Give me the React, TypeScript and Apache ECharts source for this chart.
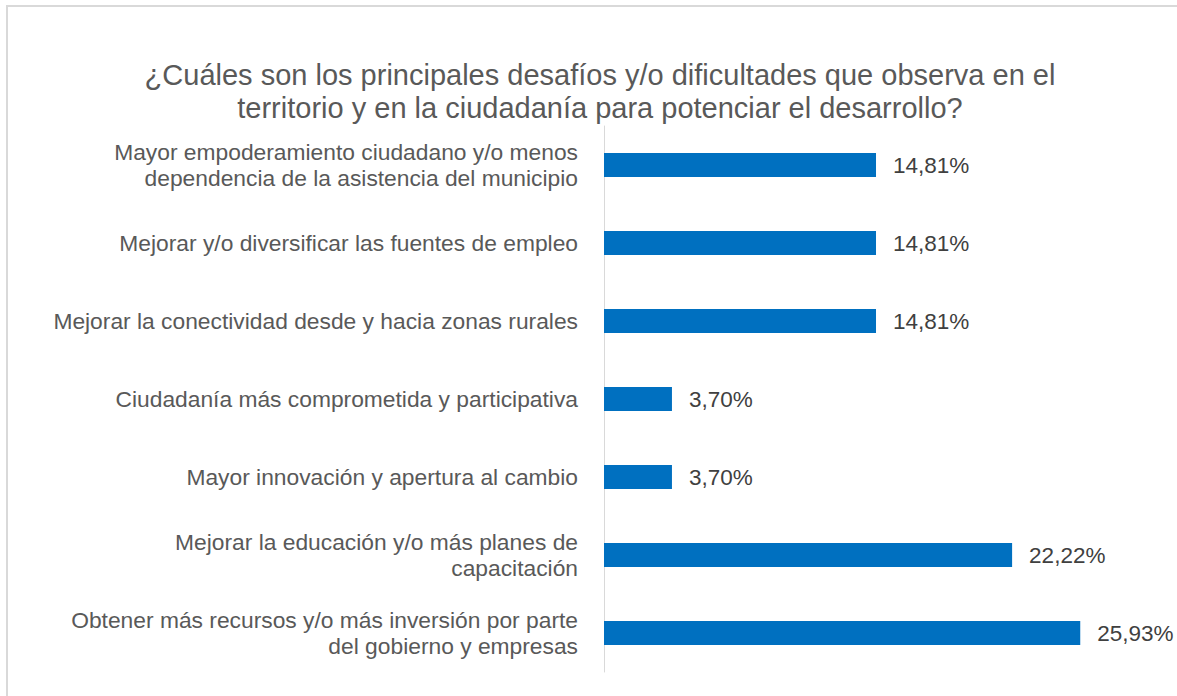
import React, { useEffect, useRef } from "react";
import * as echarts from "echarts";

const titleLines = [
  "¿Cuáles son los principales desafíos y/o dificultades que observa en el",
  "territorio y en la ciudadanía para potenciar el desarrollo?",
];

const categories = [
  "Mayor empoderamiento ciudadano y/o menos\ndependencia de la asistencia del municipio",
  "Mejorar y/o diversificar las fuentes de empleo",
  "Mejorar la conectividad desde y hacia zonas rurales",
  "Ciudadanía más comprometida y participativa",
  "Mayor innovación y apertura al cambio",
  "Mejorar la educación y/o más planes de\ncapacitación",
  "Obtener más recursos y/o más inversión por parte\ndel gobierno y empresas",
];

const values = [14.81, 14.81, 14.81, 3.7, 3.7, 22.22, 25.93];

const FONT = "'Liberation Sans', Arial, sans-serif";

export default function App() {
  const ref = useRef<HTMLDivElement>(null);
  useEffect(() => {
    if (!ref.current) return;
    const chart = echarts.init(ref.current, null, { renderer: "svg" });
    chart.setOption({
      animation: false,
      backgroundColor: "#ffffff",
      title: {
        text: titleLines.join("\n"),
        left: 595,
        textAlign: "center",
        top: 53,
        textStyle: {
          fontFamily: FONT,
          fontSize: 29,
          fontWeight: "normal",
          color: "#595959",
          lineHeight: 33,
        },
      },
      graphic: [
        {
          type: "rect",
          shape: { x: 7, y: 6, width: 1200, height: 720 },
          style: { fill: "none", stroke: "#d9d9d9", lineWidth: 2 },
          silent: true,
        },
      ],
      grid: { left: 604, top: 126, width: 551, height: 546, containLabel: false },
      xAxis: {
        type: "value",
        min: 0,
        max: 30,
        show: false,
      },
      yAxis: {
        type: "category",
        inverse: true,
        data: categories,
        axisLine: { show: true, lineStyle: { color: "#d9d9d9", width: 1 } },
        axisTick: { show: false },
        axisLabel: {
          margin: 26,
          fontFamily: FONT,
          fontSize: 22.8,
          color: "#595959",
          lineHeight: 26,
          align: "right",
        },
      },
      series: [
        {
          type: "bar",
          data: values,
          barWidth: 24,
          itemStyle: { color: "#0070C0" },
          label: {
            show: true,
            position: "right",
            distance: 17,
            fontFamily: FONT,
            fontSize: 22.5,
            color: "#404040",
            formatter: (p: any) => p.value.toFixed(2).replace(".", ",") + "%",
          },
        },
      ],
    });
    return () => chart.dispose();
  }, []);
  return (
    <div
      ref={ref}
      style={{ position: "fixed", left: 0, top: 0, width: 1177, height: 696 }}
    />
  );
}
